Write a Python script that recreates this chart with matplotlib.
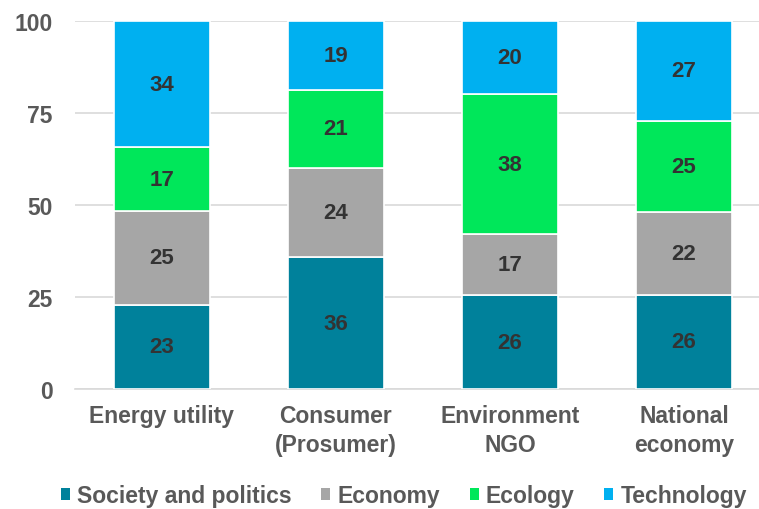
import matplotlib

matplotlib.use("Agg")
import matplotlib.pyplot as plt
import numpy as np

categories = ["Energy utility", "Consumer\n(Prosumer)", "Environment\nNGO", "National\neconomy"]
series = ["Society and politics", "Economy", "Ecology", "Technology"]
society = [22.9, 35.8, 25.5, 25.6]
economy = [25.4, 24.3, 16.5, 22.4]
ecology = [17.4, 21.1, 38.2, 24.9]
technology = [34.3, 18.8, 19.8, 27.1]
labels = [
    [23, 36, 26, 26],
    [25, 24, 17, 22],
    [17, 21, 38, 25],
    [34, 19, 20, 27],
]
colors = ["#00819B", "#A6A6A6", "#00E75A", "#00B0F0"]
yticks = [0, 25, 50, 75, 100]

plt.rcParams["font.family"] = ["Liberation Sans", "DejaVu Sans"]
plt.rcParams["font.weight"] = "bold"

fig = plt.figure(figsize=(7.59, 5.10), dpi=100)
ax = fig.add_axes([0.0988, 0.2353, 0.9012, 0.7216])

x = np.arange(len(categories))
bottom = np.zeros(len(categories))
for name, vals, lab, col in zip(series, [society, economy, ecology, technology], labels, colors):
    vals = np.array(vals)
    ax.bar(x, vals, 0.557, bottom=bottom, color=col, edgecolor="white", linewidth=1.2,
           label=name, zorder=3)
    for xi, b, v, l in zip(x, bottom, vals, lab):
        ax.text(xi, b + v / 2, str(l), ha="center", va="center", fontsize=16,
                fontweight="bold", color="#333333", zorder=4)
    bottom += vals

ax.set_xlim(-0.5, 3.431)
ax.set_ylim(0, 100)
ax.set_yticks(yticks)
ax.set_xticks(x)
ax.set_xticklabels(categories, fontsize=16.5, color="#595959", fontweight="bold",
                   linespacing=1.3)
ax.tick_params(axis="y", labelsize=16.5, labelcolor="#595959", length=0, pad=16)
ax.tick_params(axis="x", length=0, pad=11)
for lbl in ax.get_yticklabels():
    lbl.set_fontweight("bold")
ax.yaxis.grid(True, color="#D9D9D9", linewidth=1.2, zorder=0)
for s in ["top", "right", "left"]:
    ax.spines[s].set_visible(False)
ax.spines["bottom"].set_color("#D9D9D9")
ax.spines["bottom"].set_linewidth(1.2)

leg = fig.legend(loc="center", bbox_to_anchor=(0.532, 0.026), ncol=4, frameon=False,
                 fontsize=16.5, handlelength=0.4, handleheight=0.4, handletextpad=0.3,
                 columnspacing=1.3, labelcolor="#595959")
for h in leg.legend_handles:
    h.set_edgecolor("none")

fig.savefig("out.png", dpi=100)
plt.close(fig)
